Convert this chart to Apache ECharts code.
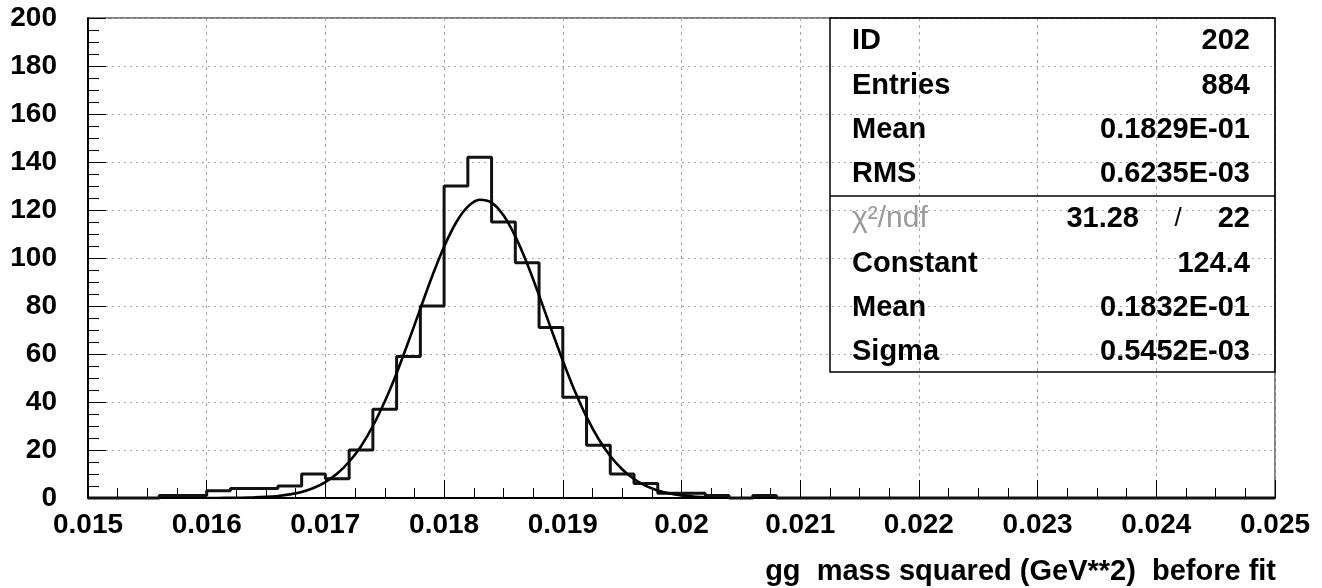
<!DOCTYPE html>
<html>
<head>
<meta charset="utf-8">
<script src="https://cdn.jsdelivr.net/npm/echarts@6/dist/echarts.min.js"></script>
<style>
html,body{margin:0;padding:0;background:#fff;}
#chart{width:1322px;height:588px;}
</style>
</head>
<body>
<div id="chart"></div>
<script>
// ---- data ----
const binLowEdges = [
  0.0150, 0.0152, 0.0154, 0.0156, 0.0158, 0.0160, 0.0162, 0.0164, 0.0166, 0.0168,
  0.0170, 0.0172, 0.0174, 0.0176, 0.0178, 0.0180, 0.0182, 0.0184, 0.0186, 0.0188,
  0.0190, 0.0192, 0.0194, 0.0196, 0.0198, 0.0200, 0.0202, 0.0204, 0.0206, 0.0208,
  0.0210, 0.0212, 0.0214, 0.0216, 0.0218, 0.0220, 0.0222, 0.0224, 0.0226, 0.0228,
  0.0230, 0.0232, 0.0234, 0.0236, 0.0238, 0.0240, 0.0242, 0.0244, 0.0246, 0.0248
];
const histUpperEdge = 0.0250;
const binCounts = [
  0, 0, 0, 1, 1, 3, 4, 4, 5, 10,
  8, 20, 37, 59, 80, 130, 142, 115, 98, 71,
  42, 22, 10, 6, 2, 2, 1, 0, 1, 0,
  0, 0, 0, 0, 0, 0, 0, 0, 0, 0,
  0, 0, 0, 0, 0, 0, 0, 0, 0, 0
];
const fitX = [
  0.0160, 0.0161, 0.0162, 0.0163, 0.0164, 0.0165, 0.0166, 0.0167, 0.0168, 0.0169,
  0.0170, 0.0171, 0.0172, 0.0173, 0.0174, 0.0175, 0.0176, 0.0177, 0.0178, 0.0179,
  0.0180, 0.0181, 0.0182, 0.0183, 0.0184, 0.0185, 0.0186, 0.0187, 0.0188, 0.0189,
  0.0190, 0.0191, 0.0192, 0.0193, 0.0194, 0.0195, 0.0196, 0.0197, 0.0198, 0.0199,
  0.0200, 0.0201, 0.0202
];
const fitY = [
  0.01, 0.03, 0.07, 0.13, 0.25, 0.47, 0.86, 1.5, 2.55, 4.19,
  6.64, 10.2, 15.1, 21.6, 30.0, 40.2, 52.0, 65.2, 78.9, 92.5,
  104.7, 114.7, 121.4, 124.3, 123.1, 117.8, 109.0, 97.6, 84.4, 70.7,
  57.2, 44.7, 33.8, 24.7, 17.5, 12.0, 7.9, 5.05, 3.12, 1.87,
  1.08, 0.60, 0.33
];
const xTickLabels = ['0.015','0.016','0.017','0.018','0.019','0.02','0.021','0.022','0.023','0.024','0.025'];
const yTickLabels = ['0','20','40','60','80','100','120','140','160','180','200'];
const statsLabels = ['ID','Entries','Mean','RMS','χ²/ndf','Constant','Mean','Sigma'];
const statsValues = ['202','884','0.1829E-01','0.6235E-03','','124.4','0.1832E-01','0.5452E-03'];
const chiValue = '31.28';
const ndfValue = '22';
const xTitle = 'gg  mass squared (GeV**2)  before fit';

// ---- build chart ----
const histData = binLowEdges.map((x, i) => [x, binCounts[i]]);
histData.push([histUpperEdge, binCounts[binCounts.length - 1]]);
const fitData = fitX.map((x, i) => [x, fitY[i]]);

const FONT = '"Liberation Sans", Arial, sans-serif';
const chart = echarts.init(document.getElementById('chart'), null, {renderer: 'canvas'});

const G = {left: 88, right: 1275, top: 18, bottom: 498};
const box = {x: 830, y: 18, w: 445, h: 354, div: 196};
const rowY = [41, 86, 130, 174, 219, 264, 308, 352];

const graphics = [
  {type: 'rect', shape: {x: box.x, y: box.y, width: box.w, height: box.h},
   style: {fill: 'none', stroke: '#000', lineWidth: 1.5}, z: 10},
  {type: 'line', shape: {x1: box.x, y1: box.div, x2: box.x + box.w, y2: box.div},
   style: {stroke: '#000', lineWidth: 1.5}, z: 10}
];
statsLabels.forEach((t, i) => {
  const isChi = t.indexOf('χ') === 0;
  graphics.push({type: 'text', x: 852, y: rowY[i], z: 11,
    style: {text: t, font: (isChi ? 'normal 30px ' : 'bold 29px ') + FONT,
      fill: isChi ? '#9a9a9a' : '#000', textAlign: 'left', textVerticalAlign: 'middle'}});
  if (statsValues[i]) {
    graphics.push({type: 'text', x: 1250, y: rowY[i], z: 11,
      style: {text: statsValues[i], font: 'bold 29px ' + FONT, fill: '#000',
        textAlign: 'right', textVerticalAlign: 'middle'}});
  }
});
graphics.push({type: 'text', x: 1139, y: rowY[4], z: 11,
  style: {text: chiValue, font: 'bold 29px ' + FONT, fill: '#000', textAlign: 'right', textVerticalAlign: 'middle'}});
graphics.push({type: 'text', x: 1178, y: rowY[4], z: 11,
  style: {text: '/', font: 'normal 26px ' + FONT, fill: '#000', textAlign: 'center', textVerticalAlign: 'middle'}});
graphics.push({type: 'text', x: 1250, y: rowY[4], z: 11,
  style: {text: ndfValue, font: 'bold 29px ' + FONT, fill: '#000', textAlign: 'right', textVerticalAlign: 'middle'}});
graphics.push({type: 'text', x: 1276, y: 572, z: 11,
  style: {text: xTitle, font: 'bold 29px ' + FONT, fill: '#000', textAlign: 'right', textVerticalAlign: 'middle'}});

chart.setOption({
  animation: false,
  backgroundColor: '#fff',
  grid: {left: G.left, top: G.top, width: G.right - G.left, height: G.bottom - G.top,
    show: true, borderColor: '#000', borderWidth: 1, outerBoundsMode: 'none', containLabel: false},
  xAxis: {
    type: 'value', min: 0.015, max: 0.025, interval: 0.001,
    axisLine: {show: true, onZero: false, lineStyle: {color: '#000', width: 2}},
    axisTick: {show: true, inside: true, length: 18, lineStyle: {color: '#000', width: 1}},
    minorTick: {show: true, splitNumber: 4, length: 10, lineStyle: {color: '#000', width: 1}},
    splitLine: {show: true, lineStyle: {color: '#a8a8a8', width: 1, type: [3, 4]}},
    axisLabel: {
      margin: 13, color: '#000', fontFamily: FONT, fontWeight: 'bold', fontSize: 28,
      formatter: function (v) {
        const idx = Math.round((v - 0.015) / 0.001);
        return xTickLabels[idx] !== undefined ? xTickLabels[idx] : '';
      }
    }
  },
  yAxis: {
    type: 'value', min: 0, max: 200, interval: 20,
    axisLine: {show: true, lineStyle: {color: '#000', width: 2}},
    axisTick: {show: true, inside: true, length: 18, lineStyle: {color: '#000', width: 1}},
    minorTick: {show: true, splitNumber: 4, length: 11, lineStyle: {color: '#000', width: 1}},
    splitLine: {show: true, lineStyle: {color: '#a8a8a8', width: 1, type: [2, 4]}},
    axisLabel: {
      margin: 31, color: '#000', fontFamily: FONT, fontWeight: 'bold', fontSize: 28,
      formatter: function (v) {
        const idx = Math.round(v / 20);
        return yTickLabels[idx] !== undefined ? yTickLabels[idx] : '';
      }
    }
  },
  series: [
    {type: 'line', name: 'hist', data: histData, step: 'end', symbol: 'none',
      lineStyle: {color: '#111', width: 3}, z: 5, clip: false},
    {type: 'line', name: 'fit', data: fitData, smooth: 0.3, symbol: 'none',
      lineStyle: {color: '#000', width: 2.6}, z: 6}
  ],
  graphic: graphics
});
</script>
</body>
</html>
